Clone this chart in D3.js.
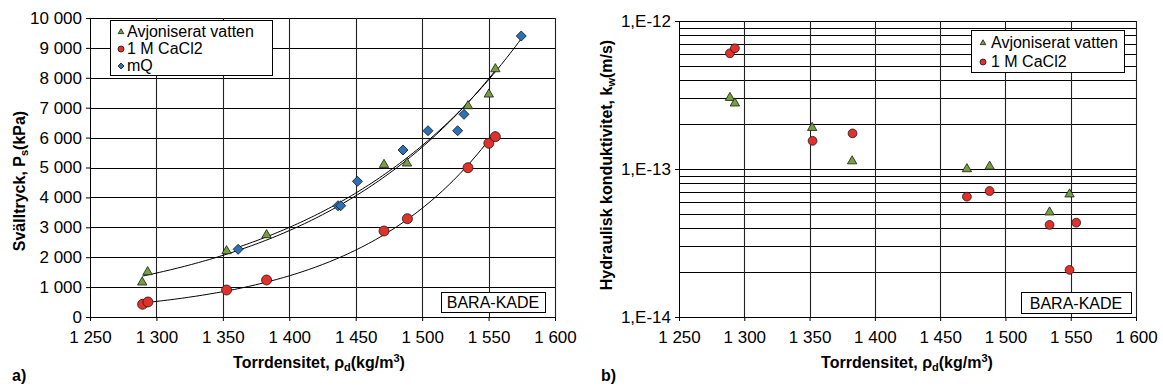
<!DOCTYPE html>
<html>
<head>
<meta charset="utf-8">
<script src="https://cdn.jsdelivr.net/npm/d3@7"></script>
<style>
  html, body { margin: 0; padding: 0; background: #fff; }
  svg { display: block; font-family: "Liberation Sans", Arial, sans-serif; }
  .tick text { font-size: 17px; fill: #000; }
</style>
</head>
<body>
<svg id="chart" width="1163" height="390"></svg>
<script>
// ---- Data: swelling pressure vs dry density (panel a) ----
const densAvj  = [1289.3, 1293.4, 1352.8, 1382.9, 1471.3, 1488.6, 1534.5, 1550.2, 1555.1];
const swellAvj = [1160, 1505, 2207, 2742, 5093, 5140, 7056, 7447, 8293];
const densCa   = [1289.6, 1293.6, 1352.8, 1382.9, 1471.3, 1488.9, 1534.5, 1550.2, 1555.1];
const swellCa  = [425, 502, 903, 1237, 2876, 3287, 4993, 5809, 6030];
const densMQ   = [1361.5, 1436.7, 1438.7, 1451.3, 1485.6, 1504.4, 1526.7, 1531.5, 1574.6];
const swellMQ  = [2264, 3722, 3722, 4538, 5585, 6230, 6230, 6778, 9397];

// ---- Data: hydraulic conductivity vs dry density (panel b) ----
const kDensAvj = [1289.0, 1292.8, 1352.0, 1382.6, 1470.5, 1487.9, 1533.8, 1549.1];
const kAvj     = [3.03e-13, 2.78e-13, 1.90e-13, 1.13e-13, 1.00e-13, 1.04e-13, 5.1e-14, 6.75e-14];
const kDensCa  = [1289.0, 1292.8, 1352.3, 1382.9, 1470.5, 1487.9, 1533.8, 1549.1, 1554.2];
const kCa      = [6.05e-13, 6.54e-13, 1.55e-13, 1.74e-13, 6.5e-14, 7.1e-14, 4.19e-14, 2.08e-14, 4.34e-14];

// ---- Axis ticks ----
const densTicks  = [1250, 1300, 1350, 1400, 1450, 1500, 1550, 1600];
const swellTicks = [0, 1000, 2000, 3000, 4000, 5000, 6000, 7000, 8000, 9000, 10000];
const kTicks     = [1e-14, 1e-13, 1e-12];
const kTickLabels = ["1,E-14", "1,E-13", "1,E-12"];

const seriesNames = ["Avjoniserat vatten", "1 M CaCl2", "mQ"];
const GREEN = "#76a03e", RED = "#e2302b", BLUE = "#2a72b5";

const svLocale = d3.formatLocale({ decimal: ",", thousands: " ", grouping: [3], currency: ["", ""] });
const fmt = svLocale.format(",d");

const svg = d3.select("#chart");

// marker generators
const tri = d3.symbol().type(d3.symbolTriangle);
const sq  = d3.symbol().type(d3.symbolSquare);

function drawMarker(g, kind, x, y, scale) {
  const s = scale || 1;
  if (kind === "tri") {
    g.append("path").attr("d", tri.size(38 * s * s)()).attr("transform", `translate(${x},${y})`)
      .attr("fill", GREEN).attr("stroke", "#1a1a1a").attr("stroke-width", 0.8);
  } else if (kind === "circ") {
    g.append("circle").attr("cx", x).attr("cy", y).attr("r", 5 * s)
      .attr("fill", RED).attr("stroke", "#1a1a1a").attr("stroke-width", 0.8);
  } else {
    g.append("path").attr("d", sq.size(50 * s * s)()).attr("transform", `translate(${x},${y}) rotate(45)`)
      .attr("fill", BLUE).attr("stroke", "#1a1a1a").attr("stroke-width", 0.8);
  }
}

// least-squares exponential trend y = a*exp(b*x), fitted on ln(y)
function expFit(xs, ys) {
  const ly = ys.map(Math.log);
  const mx = d3.mean(xs), my = d3.mean(ly);
  let sxy = 0, sxx = 0;
  xs.forEach((x, i) => { sxy += (x - mx) * (ly[i] - my); sxx += (x - mx) * (x - mx); });
  const b = sxy / sxx, a = Math.exp(my - b * mx);
  return x => a * Math.exp(b * x);
}

function xTitle(g, cx) {
  const t = g.append("text").attr("x", cx).attr("y", 368).attr("text-anchor", "middle")
    .attr("font-size", 16).attr("font-weight", "bold");
  t.append("tspan").text("Torrdensitet, ρ");
  t.append("tspan").attr("font-size", 11).attr("dy", 3).text("d");
  t.append("tspan").attr("dy", -3).text("(kg/m");
  t.append("tspan").attr("font-size", 11).attr("dy", -6).text("3");
  t.append("tspan").attr("dy", 6).text(")");
}

function labelBox(g, x0, y0, x1, y1, text) {
  g.append("rect").attr("x", x0 + 0.5).attr("y", y0 + 0.5).attr("width", x1 - x0).attr("height", y1 - y0)
    .attr("fill", "#fff").attr("stroke", "#000").attr("stroke-width", 1);
  g.append("text").attr("x", (x0 + x1) / 2).attr("y", y1 - 4).attr("text-anchor", "middle")
    .attr("font-size", 16).text(text);
}

// ================= Panel a =================
{
  const g = svg.append("g");
  const x = d3.scaleLinear().domain([1250, 1600]).range([90, 555]);
  const y = d3.scaleLinear().domain([0, 10000]).range([317, 18]);

  // grid
  g.append("g").selectAll("line").data(swellTicks.slice(1)).join("line")
    .attr("x1", 90).attr("x2", 555).attr("y1", d => Math.round(y(d)) + 0.5).attr("y2", d => Math.round(y(d)) + 0.5)
    .attr("stroke", "#000").attr("stroke-width", 1.1);
  g.append("g").selectAll("line").data(densTicks.slice(1)).join("line")
    .attr("y1", 18).attr("y2", 317).attr("x1", d => Math.round(x(d)) + 0.5).attr("x2", d => Math.round(x(d)) + 0.5)
    .attr("stroke", "#222").attr("stroke-width", 1.1);

  // axes
  g.append("g").attr("transform", "translate(0,317)")
    .call(d3.axisBottom(x).tickValues(densTicks).tickFormat(fmt).tickSize(4).tickPadding(10))
    .call(a => a.select(".domain").attr("stroke", "#000"));
  g.append("g").attr("transform", "translate(90,0)")
    .call(d3.axisLeft(y).tickValues(swellTicks).tickFormat(fmt).tickSize(4).tickPadding(4))
    .call(a => a.select(".domain").attr("stroke", "#000"));
  g.selectAll(".tick text").attr("font-family", "Liberation Sans, Arial, sans-serif");

  // trend lines
  const line = d3.line().x(d => x(d[0])).y(d => y(d[1]));
  [[densAvj, swellAvj], [densMQ, swellMQ], [densCa, swellCa]].forEach(([xs, ys]) => {
    const f = expFit(xs, ys);
    const [lo, hi] = d3.extent(xs);
    const pts = d3.range(0, 101).map(i => { const v = lo + (hi - lo) * i / 100; return [v, f(v)]; });
    g.append("path").attr("d", line(pts)).attr("fill", "none").attr("stroke", "#000").attr("stroke-width", 1);
  });

  // markers
  densMQ.forEach((d, i) => drawMarker(g, "dia", x(d), y(swellMQ[i])));
  densCa.forEach((d, i) => drawMarker(g, "circ", x(d), y(swellCa[i])));
  densAvj.forEach((d, i) => drawMarker(g, "tri", x(d), y(swellAvj[i])));

  // legend
  g.append("rect").attr("x", 110.5).attr("y", 20.5).attr("width", 162).attr("height", 55)
    .attr("fill", "#fff").attr("stroke", "#000");
  const kinds = ["tri", "circ", "dia"];
  seriesNames.forEach((n, i) => {
    const by = 37 + i * 17;
    drawMarker(g, kinds[i], 121, by - 5, 0.6);
    g.append("text").attr("x", 127).attr("y", by).attr("font-size", 16).text(n);
  });

  labelBox(g, 441, 292, 545, 312, "BARA-KADE");

  // titles
  const yt = g.append("text").attr("transform", "translate(25,181) rotate(-90)").attr("text-anchor", "middle")
    .attr("font-size", 16).attr("font-weight", "bold");
  yt.append("tspan").text("Svälltryck, P");
  yt.append("tspan").attr("font-size", 11).attr("dy", 3).text("s");
  yt.append("tspan").attr("dy", -3).text("(kPa)");
  xTitle(g, 319);
  g.append("text").attr("x", 12).attr("y", 381).attr("font-size", 16).attr("font-weight", "bold").text("a)");
}

// ================= Panel b =================
{
  const g = svg.append("g");
  const x = d3.scaleLinear().domain([1250, 1600]).range([679, 1136]);
  const y = d3.scaleLog().domain([1e-14, 1e-12]).range([317, 21]);

  // log grid: every 1..9 within each decade
  const gridVals = [];
  [1e-14, 1e-13].forEach(dec => { for (let m = 1; m <= 9; m++) if (!(m === 1 && dec === 1e-14)) gridVals.push(m * dec); });
  gridVals.push(1e-12);
  g.append("g").selectAll("line").data(gridVals).join("line")
    .attr("x1", 679).attr("x2", 1136).attr("y1", d => Math.round(y(d)) + 0.5).attr("y2", d => Math.round(y(d)) + 0.5)
    .attr("stroke", "#000").attr("stroke-width", 1.1);
  g.append("g").selectAll("line").data(densTicks.slice(1)).join("line")
    .attr("y1", 21).attr("y2", 317).attr("x1", d => Math.round(x(d)) + 0.5).attr("x2", d => Math.round(x(d)) + 0.5)
    .attr("stroke", "#222").attr("stroke-width", 1.1);

  g.append("g").attr("transform", "translate(0,317)")
    .call(d3.axisBottom(x).tickValues(densTicks).tickFormat(fmt).tickSize(4).tickPadding(10))
    .call(a => a.select(".domain").attr("stroke", "#000"));
  g.append("g").attr("transform", "translate(679,0)")
    .call(d3.axisLeft(y).tickValues(kTicks).tickFormat((d, i) => kTickLabels[i]).tickSize(4).tickPadding(4))
    .call(a => a.select(".domain").attr("stroke", "#000"));
  g.selectAll(".tick text").attr("font-family", "Liberation Sans, Arial, sans-serif");

  kDensCa.forEach((d, i) => drawMarker(g, "circ", x(d), y(kCa[i]), 0.88));
  kDensAvj.forEach((d, i) => drawMarker(g, "tri", x(d), y(kAvj[i])));

  // legend
  g.append("rect").attr("x", 971.5).attr("y", 30.5).attr("width", 153).attr("height", 42)
    .attr("fill", "#fff").attr("stroke", "#000");
  ["tri", "circ"].forEach((k, i) => {
    const by = 48 + i * 19;
    drawMarker(g, k, 983, by - 5, 0.6);
    g.append("text").attr("x", 991).attr("y", by).attr("font-size", 16).text(seriesNames[i]);
  });

  labelBox(g, 1021, 292, 1131, 313, "BARA-KADE");

  const yt = g.append("text").attr("transform", "translate(612,165) rotate(-90)").attr("text-anchor", "middle")
    .attr("font-size", 16).attr("font-weight", "bold");
  yt.append("tspan").text("Hydraulisk konduktivitet, k");
  yt.append("tspan").attr("font-size", 11).attr("dy", 3).text("w");
  yt.append("tspan").attr("dy", -3).text("(m/s)");
  xTitle(g, 907);
  g.append("text").attr("x", 601).attr("y", 381).attr("font-size", 16).attr("font-weight", "bold").text("b)");
}
</script>
</body>
</html>
